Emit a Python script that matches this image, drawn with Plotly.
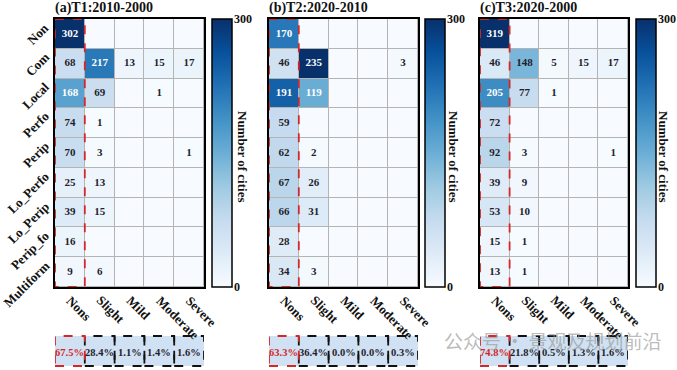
import plotly.graph_objects as go

# ---------------- data ----------------
rows = ["Non", "Com", "Local", "Perfo", "Perip", "Lo_Perfo", "Lo_Perip", "Perip_fo", "Multiform"]
cols = ["Nons", "Slight", "Mild", "Moderate", "Severe"]

t1_values = [
    [302, 0, 0, 0, 0],
    [68, 217, 13, 15, 17],
    [168, 69, 0, 1, 0],
    [74, 1, 0, 0, 0],
    [70, 3, 0, 0, 1],
    [25, 13, 0, 0, 0],
    [39, 15, 0, 0, 0],
    [16, 0, 0, 0, 0],
    [9, 6, 0, 0, 0],
]
t2_values = [
    [170, 0, 0, 0, 0],
    [46, 235, 0, 0, 3],
    [191, 119, 0, 0, 0],
    [59, 0, 0, 0, 0],
    [62, 2, 0, 0, 0],
    [67, 26, 0, 0, 0],
    [66, 31, 0, 0, 0],
    [28, 0, 0, 0, 0],
    [34, 3, 0, 0, 0],
]
t3_values = [
    [319, 0, 0, 0, 0],
    [46, 148, 5, 15, 17],
    [205, 77, 1, 0, 0],
    [72, 0, 0, 0, 0],
    [92, 3, 0, 0, 1],
    [39, 9, 0, 0, 0],
    [53, 10, 0, 0, 0],
    [15, 1, 0, 0, 0],
    [13, 1, 0, 0, 0],
]
t1_pct = ["67.5%", "28.4%", "1.1%", "1.4%", "1.6%"]
t2_pct = ["63.3%", "36.4%", "0.0%", "0.0%", "0.3%"]
t3_pct = ["74.8%", "21.8%", "0.5%", "1.3%", "1.6%"]
titles = ["(a)T1:2010-2000", "(b)T2:2020-2010", "(c)T3:2020-2000"]
cbar_ticktext = ["0", "300"]
cbar_title = "Number of cities"
watermark = "公众号 · 景观及规划前沿"

# ---------------- style ----------------
W, H = 677, 370
FONT = "Liberation Serif"
BLUES = ["#f7fbff", "#deebf7", "#c6dbef", "#9ecae1", "#6baed6",
         "#4292c6", "#2171b5", "#08519c", "#08306b"]
colorscale = [[i / 8, c] for i, c in enumerate(BLUES)]
RED = "#d62728"
DARK = "#1f1f2e"
INK = "#111111"


def fx(p):
    return p / W


def fy(p):
    return 1 - p / H


def hex2rgb(h):
    h = h.lstrip("#")
    return [int(h[i:i + 2], 16) / 255 for i in (0, 2, 4)]


def cmap(t):
    t = min(max(t, 0), 1) * 8
    i = min(int(t), 7)
    f = t - i
    a, b = hex2rgb(BLUES[i]), hex2rgb(BLUES[i + 1])
    return [a[k] + (b[k] - a[k]) * f for k in range(3)]


def lum(rgb):
    def ch(c):
        return c / 12.92 if c <= 0.03928 else ((c + 0.055) / 1.055) ** 2.4
    r, g, b = [ch(c) for c in rgb]
    return 0.2126 * r + 0.7152 * g + 0.0722 * b


def bold(size, color=INK, family=FONT):
    return dict(family=family, size=size, color=color, weight="bold")


panels = [
    dict(z=t1_values, pct=t1_pct, title=titles[0], x0=55, x1=204, cb=212, cbt=243),
    dict(z=t2_values, pct=t2_pct, title=titles[1], x0=269, x1=418, cb=425, cbt=454),
    dict(z=t3_values, pct=t3_pct, title=titles[2], x0=480, x1=628, cb=636, cbt=664),
]
TOP, BOT = 19, 287
BOX_T, BOX_B = 336, 366
CB_W = 20

fig = go.Figure()
shapes = []
annotations = []
layout = {}

for k, p in enumerate(panels):
    sfx = "" if k == 0 else str(k + 1)
    xa, ya = "x" + sfx, "y" + sfx
    z = p["z"]
    zmax = max(max(r) for r in z)
    xs = list(range(len(cols)))
    ys = list(range(len(rows)))
    fig.add_trace(go.Heatmap(
        z=z, x=xs, y=ys, xaxis=xa, yaxis=ya,
        zmin=0, zmax=zmax, colorscale=colorscale,
        xgap=1, ygap=1, hoverinfo="skip",
        colorbar=dict(
            x=fx(p["cb"]), xanchor="left", xpad=0, ypad=0,
            y=fy((TOP + BOT) / 2), yanchor="middle",
            len=BOT - TOP, lenmode="pixels",
            thickness=CB_W, thicknessmode="pixels",
            outlinewidth=1.5, outlinecolor="black",
            showticklabels=False, ticks="",
        ),
    ))
    # colorbar end labels
    for lab, ypx in zip(cbar_ticktext, [BOT, TOP]):
        annotations.append(dict(
            x=fx(p["cb"] + CB_W + 1), y=fy(ypx), xref="paper", yref="paper",
            text=lab, showarrow=False, xanchor="left", yanchor="middle",
            borderpad=0, font=bold(12),
        ))
    # cell labels
    tx, ty, tt, tc = [], [], [], []
    for i, r in enumerate(z):
        for j, v in enumerate(r):
            if v > 0:
                tx.append(j)
                ty.append(i)
                tt.append(str(v))
                tc.append("white" if lum(cmap(v / zmax)) < 0.408 else DARK)
    fig.add_trace(go.Scatter(
        x=tx, y=ty, text=tt, mode="text", xaxis=xa, yaxis=ya,
        textfont=dict(family=FONT, size=11, color=tc, weight="bold"),
        hoverinfo="skip", showlegend=False,
    ))
    layout["xaxis" + sfx] = dict(
        domain=[fx(p["x0"]), fx(p["x1"])], anchor=ya,
        range=[-0.5, len(cols) - 0.5], showticklabels=False,
        ticks="", showgrid=False, zeroline=False,
        showline=True, mirror=True, linecolor="black", linewidth=1.5,
        fixedrange=True,
    )
    layout["yaxis" + sfx] = dict(
        domain=[fy(BOT), fy(TOP)], anchor=xa,
        range=[len(rows) - 0.5, -0.5], showticklabels=False,
        ticks="", showgrid=False, zeroline=False,
        showline=True, mirror=True, linecolor="black", linewidth=1.5,
        fixedrange=True,
    )
    # x category labels (rotated 45 deg clockwise)
    for j, c in enumerate(cols):
        annotations.append(dict(
            x=j, xref=xa, y=fy(290), yref="paper", xshift=-9,
            text=c, showarrow=False, textangle=45,
            xanchor="left", yanchor="top", font=bold(13),
        ))
    # y category labels only on the first panel
    if k == 0:
        for i, r in enumerate(rows):
            annotations.append(dict(
                x=-0.5, xref=xa, y=i, yref=ya, xshift=0, yshift=17,
                text=r, showarrow=False, textangle=-45,
                xanchor="right", yanchor="top", font=bold(13),
            ))
    # red dashed frame around the "Nons" column
    shapes.append(dict(type="rect", xref=xa, yref=ya, x0=-0.5, x1=0.5,
                       y0=-0.5, y1=len(rows) - 0.5,
                       line=dict(color=RED, width=1.8, dash="dash")))
    # percentage boxes
    for j, txt in enumerate(p["pct"]):
        shapes.append(dict(type="rect", xref=xa, yref="paper",
                           x0=j - 0.5, x1=j + 0.5, y0=fy(BOX_B), y1=fy(BOX_T),
                           fillcolor="#cfe1f2", line=dict(width=0), layer="below"))
    for j in range(1, len(cols)):
        shapes.append(dict(type="rect", xref=xa, yref="paper",
                           x0=j - 0.5, x1=j + 0.5, y0=fy(BOX_B), y1=fy(BOX_T),
                           line=dict(color=INK, width=1.8, dash="dash")))
    shapes.append(dict(type="rect", xref=xa, yref="paper",
                       x0=-0.5, x1=0.5, y0=fy(BOX_B), y1=fy(BOX_T),
                       line=dict(color=RED, width=1.8, dash="dash")))
    for j, txt in enumerate(p["pct"]):
        annotations.append(dict(
            x=j, y=fy((BOX_T + BOX_B) / 2 + 1), xref=xa, yref="paper",
            text=txt, showarrow=False, xanchor="center", yanchor="middle",
            borderpad=0, font=bold(10.5, RED if j == 0 else DARK),
        ))
    # panel title
    annotations.append(dict(
        x=fx(p["x0"] - 1), y=fy(8), xref="paper", yref="paper", text=p["title"],
        showarrow=False, xanchor="left", yanchor="middle", borderpad=0,
        font=bold(14),
    ))
    # colorbar title
    annotations.append(dict(
        x=fx(p["cbt"]), y=fy(156), xref="paper", yref="paper", text=cbar_title,
        showarrow=False, textangle=90, xanchor="center", yanchor="middle",
        font=bold(13),
    ))

# watermark
annotations.append(dict(
    x=fx(553), y=fy(340), xref="paper", yref="paper", text=watermark,
    showarrow=False, xanchor="center", yanchor="middle", borderpad=0,
    font=dict(family="Noto Sans CJK SC", size=19, color="rgba(150,150,150,0.65)"),
))

fig.update_layout(
    width=W, height=H, margin=dict(l=0, r=0, t=0, b=0, autoexpand=False),
    paper_bgcolor="white", plot_bgcolor="#b4b4b4",
    showlegend=False, shapes=shapes, annotations=annotations,
    **layout,
)

fig.write_html(
    "out.html",
    config={"displayModeBar": False},
    post_script="document.body.style.margin='0';document.body.style.padding='0';",
)
